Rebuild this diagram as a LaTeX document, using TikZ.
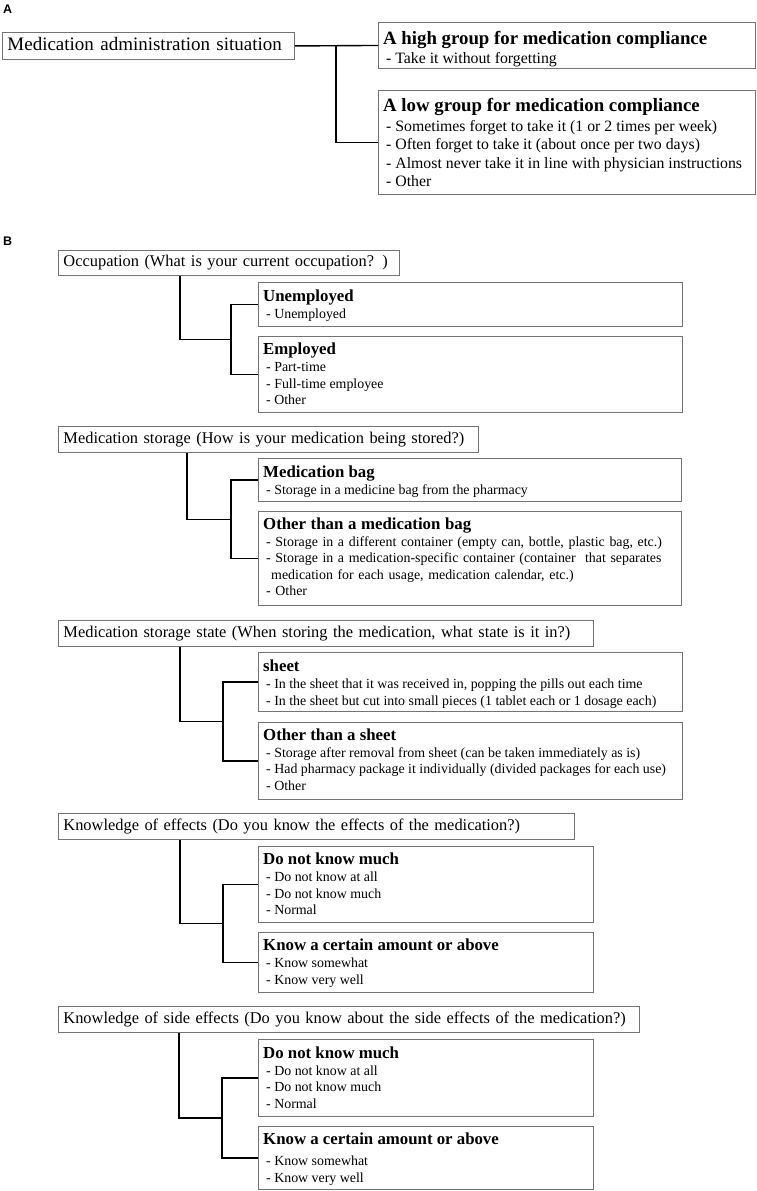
\documentclass[tikz,border=0pt]{standalone}
\usepackage{fontspec}
\setmainfont{Liberation Serif}
\setsansfont{Liberation Sans}
\usetikzlibrary{calc}

\definecolor{boxgray}{RGB}{115,115,115}

\tikzset{
  frame/.style={draw=boxgray, line width=0.9pt, anchor=north west, inner sep=0pt},
  qbox/.style={frame, inner xsep=5pt, align=left, text height=11.4pt, text depth=3.6pt, font=\fontsize{16.4}{19}\selectfont},
  atext/.style={anchor=north west, inner sep=0pt, align=left, font=\fontsize{15.8}{18.5}\selectfont},
  btext/.style={anchor=north west, inner sep=0pt, align=left, font=\fontsize{13.9}{16.5}\selectfont},
  link/.style={line width=1.4pt},
  panel/.style={font=\sffamily\bfseries\fontsize{12.5}{14}\selectfont, anchor=north west, inner sep=0pt}
}
\newcommand{\atitle}[1]{{\fontsize{18.8}{22}\selectfont\bfseries #1}}
\newcommand{\btitle}[1]{{\fontsize{16.8}{20}\selectfont\bfseries #1}}
\newcommand{\dashitem}{\hspace*{3pt}- }

\begin{document}
\begin{tikzpicture}[x=1pt, y=-1pt]
    \useasboundingbox (0,0) rectangle (756,1191);

    % panel A
    \node[panel] (lblA) at (3,5) {A};
    \node[qbox, font=\fontsize{19}{22}\selectfont, text height=13.2pt, text depth=4pt, text width=282pt, minimum height=27pt] (root) at (2,32) {Medication administration situation};
    \node[frame, minimum width=377pt, minimum height=46pt] (high) at (378,22) {};
    \node[atext] (high-t) at ([shift={(5,9)}]high.north west) {\atitle{A high group for medication compliance}\\[0.5pt]
        \dashitem Take it without forgetting};
    \node[frame, minimum width=377pt, minimum height=104pt] (low) at (378,90) {};
    \node[atext] (low-t) at ([shift={(5,8.5)}]low.north west) {\atitle{A low group for medication compliance}\\[1pt]
        \dashitem Sometimes forget to take it (1 or 2 times per week)\\
        \dashitem Often forget to take it (about once per two days)\\
        \dashitem Almost never take it in line with physician instructions\\
        \dashitem Other};

    \draw[link] (root.east) -- (high.west);
    \draw[link] ([xshift=41pt]root.east) |- (low.west);

    % panel B
    \node[panel] (lblB) at (3,237) {B};

    % occupation
    \node[qbox, text width=331pt, minimum height=25pt] (occ) at (58,250) {Occupation (What is your current occupation? )};
    \node[frame, minimum width=424pt, minimum height=44pt] (unemp) at (258,282) {};
    \node[btext] (unemp-t) at ([shift={(5,7.6)}]unemp.north west) {\btitle{Unemployed}\\[0.5pt]
        \dashitem Unemployed};
    \node[frame, minimum width=424pt, minimum height=76pt] (emp) at (258,336) {};
    \node[btext] (emp-t) at ([shift={(5,7)}]emp.north west) {\btitle{Employed}\\[0.5pt]
        \dashitem Part-time\\
        \dashitem Full-time employee\\
        \dashitem Other};
    \coordinate (occj) at ($(unemp.west)!.5!(emp.west)+(-27,0)$);
    \draw[link] ([xshift=122pt]occ.south west) |- (occj);
    \draw[link] (unemp.west) -| (occj) |- (emp.west);

    % storage
    \node[qbox, text width=410pt, minimum height=26pt] (stor) at (58,426) {Medication storage (How is your medication being stored?)};
    \node[frame, minimum width=423pt, minimum height=43pt] (bag) at (258,458) {};
    \node[btext] (bag-t) at ([shift={(5,7.6)}]bag.north west) {\btitle{Medication bag}\\[0.5pt]
        \dashitem Storage in a medicine bag from the pharmacy};
    \node[frame, minimum width=423pt, minimum height=94pt] (othbag) at (258,511) {};
    \node[btext, text width=410pt] (othbag-t) at ([shift={(5,6.5)}]othbag.north west) {\btitle{Other than a medication bag}\\[0.5pt]
        \dashitem Storage in a different container (empty can, bottle, plastic bag, etc.)\\
        \makebox[\hsize][s]{\hspace*{3pt}- Storage in a medication-specific container (container\ \ that separates}\\
        \hspace*{8pt}medication for each usage, medication calendar, etc.)\\
        \dashitem Other};
    \coordinate (storj) at ($(bag.west)!.5!(othbag.west)+(-27,0)$);
    \draw[link] ([xshift=129pt]stor.south west) |- (storj);
    \draw[link] (bag.west) -| (storj) |- (othbag.west);

    % storage state
    \node[qbox, text width=525pt, minimum height=26pt] (state) at (58,620) {Medication storage state (When storing the medication, what state is it in?)};
    \node[frame, minimum width=424pt, minimum height=59pt] (sheet) at (258,652) {};
    \node[btext] (sheet-t) at ([shift={(5,8)}]sheet.north west) {\btitle{sheet}\\[0.5pt]
        \dashitem In the sheet that it was received in, popping the pills out each time\\
        \dashitem In the sheet but cut into small pieces (1 tablet each or 1 dosage each)};
    \node[frame, minimum width=424pt, minimum height=77pt] (othsheet) at (258,722) {};
    \node[btext] (othsheet-t) at ([shift={(5,6.5)}]othsheet.north west) {\btitle{Other than a sheet}\\[0.5pt]
        \dashitem Storage after removal from sheet (can be taken immediately as is)\\
        \dashitem Had pharmacy package it individually (divided packages for each use)\\
        \dashitem Other};
    \coordinate (statej) at ($(sheet.west)!.5!(othsheet.west)+(-35,0)$);
    \draw[link] ([xshift=122pt]state.south west) |- (statej);
    \draw[link] (sheet.west) -| (statej) |- (othsheet.west);

    % effects
    \node[qbox, text width=506pt, minimum height=26pt] (eff) at (58,813) {Knowledge of effects (Do you know the effects of the medication?)};
    \node[frame, minimum width=335pt, minimum height=76pt] (effno) at (258,846) {};
    \node[btext] (effno-t) at ([shift={(5,7)}]effno.north west) {\btitle{Do not know much}\\[0.5pt]
        \dashitem Do not know at all\\
        \dashitem Do not know much\\
        \dashitem Normal};
    \node[frame, minimum width=335pt, minimum height=60pt] (effyes) at (258,932) {};
    \node[btext] (effyes-t) at ([shift={(5,7)}]effyes.north west) {\btitle{Know a certain amount or above}\\[0.5pt]
        \dashitem Know somewhat\\
        \dashitem Know very well};
    \coordinate (effj) at ($(effno.west)!.5!(effyes.west)+(-35,0)$);
    \draw[link] ([xshift=122pt]eff.south west) |- (effj);
    \draw[link] (effno.west) -| (effj) |- (effyes.west);

    % side effects
    \node[qbox, text width=571pt, minimum height=26pt] (side) at (58,1006) {Knowledge of side effects (Do you know about the side effects of the medication?)};
    \node[frame, minimum width=335pt, minimum height=77pt] (sideno) at (258,1039) {};
    \node[btext] (sideno-t) at ([shift={(5,7.6)}]sideno.north west) {\btitle{Do not know much}\\[0.5pt]
        \dashitem Do not know at all\\
        \dashitem Do not know much\\
        \dashitem Normal};
    \node[frame, minimum width=335pt, minimum height=63pt] (sideyes) at (258,1126) {};
    \node[btext] (sideyes-t) at ([shift={(5,7)}]sideyes.north west) {\btitle{Know a certain amount or above}\\[4pt]
        \dashitem Know somewhat\\[0.5pt]
        \dashitem Know very well};
    \coordinate (sidej) at ($(sideno.west)!.5!(sideyes.west)+(-36,0)$);
    \draw[link] ([xshift=121pt]side.south west) |- (sidej);
    \draw[link] (sideno.west) -| (sidej) |- (sideyes.west);
\end{tikzpicture}
\end{document}
